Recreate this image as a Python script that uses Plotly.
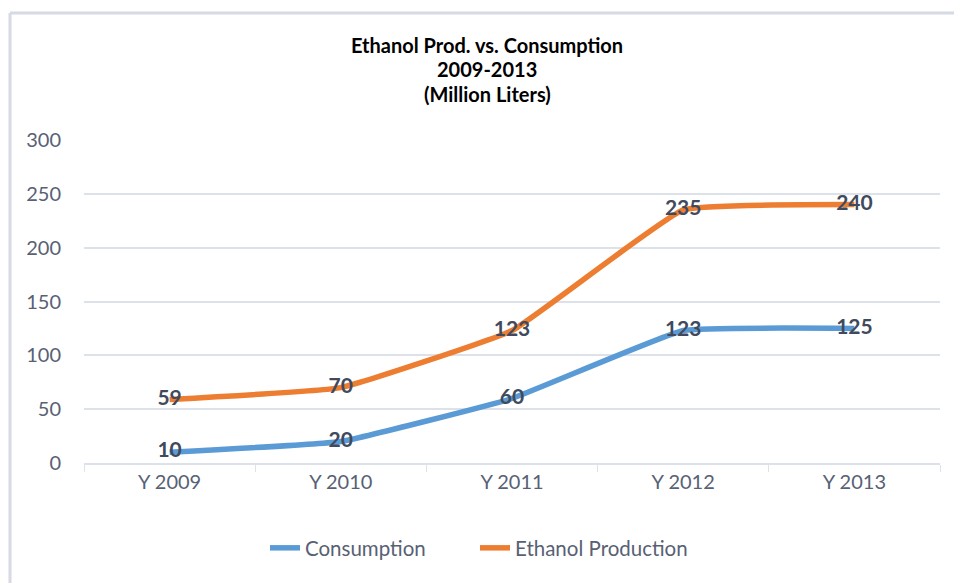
import plotly.graph_objects as go

categories = ["Y 2009", "Y 2010", "Y 2011", "Y 2012", "Y 2013"]
consumption = [10, 20, 60, 123, 125]
production = [59, 70, 123, 235, 240]
title_lines = ["Ethanol Prod. vs. Consumption", "2009-2013", "(Million Liters)"]

FONT = "Lato"
label_color = "#404A5C"
tick_color = "#586174"
grid_color = "#DCE1EA"

# page offset (body margin) in screen pixels
OFF = 8

fig = go.Figure()
fig.add_trace(go.Scatter(
    x=categories, y=consumption, name="Consumption", mode="lines+text",
    line=dict(color="#5B9BD5", width=5.5, shape="spline", smoothing=0.3),
    text=[str(v) for v in consumption], textposition="middle center",
    textfont=dict(family=FONT, size=21, color=label_color, weight="bold"),
    cliponaxis=False, legend="legend",
))
fig.add_trace(go.Scatter(
    x=categories, y=production, name="Ethanol Production", mode="lines+text",
    line=dict(color="#ED7D31", width=5.5, shape="spline", smoothing=0.3),
    text=[str(v) for v in production], textposition="middle center",
    textfont=dict(family=FONT, size=21, color=label_color, weight="bold"),
    cliponaxis=False, legend="legend2",
))

W, H = 962, 583
# plot area in screen px: x 84..940, y 140..463
L = 84 - OFF
T = 140 - OFF
R = W - (940 - OFF)
B = H - (463 - OFF)
pw, ph = W - L - R, H - T - B

def px(x):
    return (x - OFF - L) / pw

def py(y):
    return (H - B - (y - OFF)) / ph

annotations = []
for line, ycen in zip(title_lines, [45, 69, 94]):
    annotations.append(dict(
        text="<b>%s</b>" % line, x=px(487), y=py(ycen), xref="paper", yref="paper",
        showarrow=False, xanchor="center", yanchor="middle",
        font=dict(family=FONT, size=20, color="#000000"),
    ))

border = dict(color="#D5DAE4", width=3)
shapes = [
    dict(type="line", xref="paper", yref="paper",
         x0=px(10), x1=px(990), y0=py(13), y1=py(13), line=border, layer="above"),
    dict(type="line", xref="paper", yref="paper",
         x0=px(10), x1=px(10), y0=py(13), y1=py(620), line=border, layer="above"),
]

legend_font = dict(family=FONT, size=20.5, color=tick_color)

fig.update_layout(
    width=W, height=H,
    margin=dict(l=L, r=R, t=T, b=B, autoexpand=False),
    paper_bgcolor="white", plot_bgcolor="white",
    font=dict(family=FONT, color=tick_color),
    showlegend=True,
    legend=dict(
        orientation="h", x=px(265), xanchor="left", y=py(548), yanchor="middle",
        font=legend_font, bgcolor="rgba(0,0,0,0)",
    ),
    legend2=dict(
        orientation="h", x=px(475), xanchor="left", y=py(548), yanchor="middle",
        font=legend_font, bgcolor="rgba(0,0,0,0)",
    ),
    annotations=annotations,
    shapes=shapes,
    xaxis=dict(
        type="category", range=[-0.5, 4.5], showgrid=False,
        showline=True, linecolor=grid_color, linewidth=1.5,
        ticks="outside", tickson="boundaries", ticklen=7, tickcolor=grid_color,
        tickfont=dict(family=FONT, size=20, color=tick_color),
        fixedrange=True,
    ),
    yaxis=dict(
        range=[0, 300], dtick=50, showgrid=True, gridcolor=grid_color, gridwidth=1.5,
        zeroline=False, showline=False, ticks="", ticklabelstandoff=22,
        tickfont=dict(family=FONT, size=20, color=tick_color),
        fixedrange=True,
    ),
)

fig.write_html("out.html")
